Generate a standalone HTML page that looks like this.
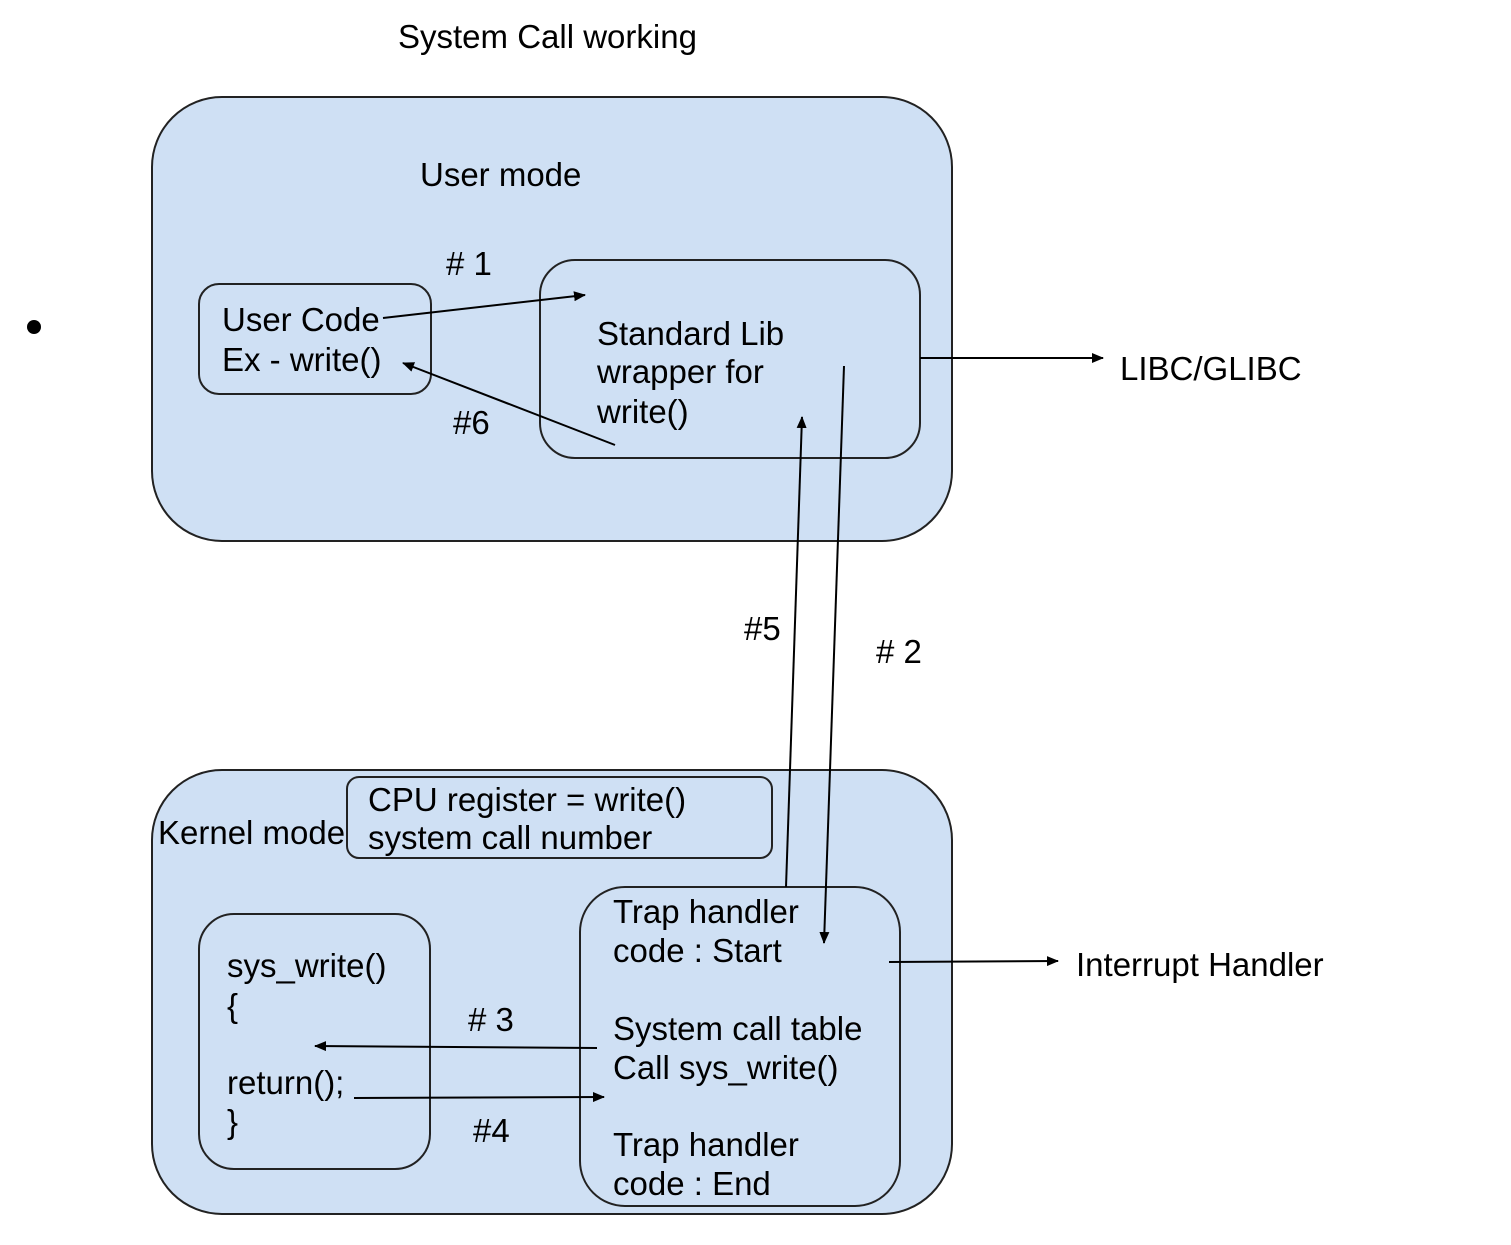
<!DOCTYPE html>
<html><head><meta charset="utf-8"><style>
html,body{margin:0;padding:0;background:#fff}
svg text{font-family:"Liberation Sans",Arial,sans-serif;font-size:33px;fill:#000}
</style></head><body>
<svg width="1511" height="1240" viewBox="0 0 1511 1240" xmlns="http://www.w3.org/2000/svg">
<defs><marker id="a" markerWidth="12" markerHeight="10" refX="11" refY="5" orient="auto" markerUnits="userSpaceOnUse"><path d="M0,0 L12,5 L0,10 z" fill="#000"/></marker></defs>
<text x="398" y="48">System Call working</text>
<circle cx="34" cy="327" r="7" fill="#000"/>
<rect x="152" y="97" width="800" height="444" rx="70" fill="#cfe0f4" stroke="#222" stroke-width="2"/>
<text x="420" y="186">User mode</text>
<rect x="199" y="284" width="232" height="110" rx="20" fill="#cfe0f4" stroke="#222" stroke-width="2"/>
<text x="222" y="331">User Code</text>
<text x="222" y="371">Ex - write()</text>
<rect x="540" y="260" width="380" height="198" rx="35" fill="#cfe0f4" stroke="#222" stroke-width="2"/>
<text x="597" y="345">Standard Lib</text>
<text x="597" y="383">wrapper for</text>
<text x="597" y="423">write()</text>
<text x="446" y="275">#&#160;1</text>
<text x="453" y="434">#6</text>
<text x="1120" y="380">LIBC/GLIBC</text>
<rect x="152" y="770" width="800" height="444" rx="70" fill="#cfe0f4" stroke="#222" stroke-width="2"/>
<text x="158" y="844">Kernel mode</text>
<rect x="347" y="777" width="425" height="81" rx="12" fill="#cfe0f4" stroke="#222" stroke-width="2"/>
<text x="368" y="811">CPU register = write()</text>
<text x="368" y="849">system call number</text>
<rect x="199" y="914" width="231" height="255" rx="35" fill="#cfe0f4" stroke="#222" stroke-width="2"/>
<text x="227" y="977">sys_write()</text>
<text x="227" y="1017">{</text>
<text x="227" y="1094">return();</text>
<text x="227" y="1133">}</text>
<rect x="580" y="887" width="320" height="319" rx="45" fill="#cfe0f4" stroke="#222" stroke-width="2"/>
<text x="613" y="923">Trap handler</text>
<text x="613" y="962">code : Start</text>
<text x="613" y="1040">System call table</text>
<text x="613" y="1079">Call sys_write()</text>
<text x="613" y="1156">Trap handler</text>
<text x="613" y="1195">code : End</text>
<text x="468" y="1031">#&#160;3</text>
<text x="473" y="1142">#4</text>
<text x="744" y="640">#5</text>
<text x="876" y="663">#&#160;2</text>
<text x="1076" y="976">Interrupt Handler</text>
<g stroke="#000" stroke-width="2" fill="none" marker-end="url(#a)">
<line x1="383" y1="318" x2="585" y2="295"/>
<line x1="615" y1="445" x2="403" y2="363"/>
<line x1="920" y1="358" x2="1103" y2="358"/>
<line x1="844" y1="366" x2="824" y2="943"/>
<line x1="786" y1="887" x2="802" y2="417"/>
<line x1="889" y1="962" x2="1058" y2="961"/>
<line x1="597" y1="1048" x2="315" y2="1046"/>
<line x1="354" y1="1098" x2="604" y2="1097"/>
</g>
</svg>
</body></html>
